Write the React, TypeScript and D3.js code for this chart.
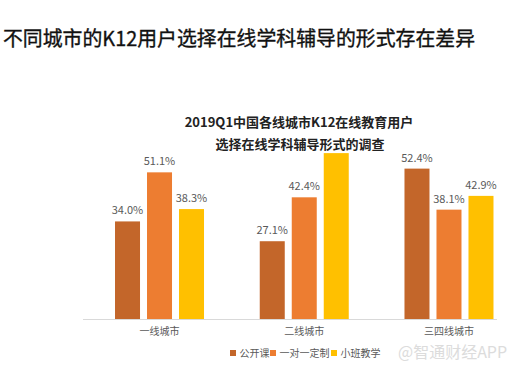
import React from "react";
import * as d3 from "d3";

const categories = ["一线城市", "二线城市", "三四线城市"];
const seriesNames = ["公开课", "一对一定制", "小班教学"];
const openClass = [34.0, 27.1, 52.4];
const oneOnOne = [51.1, 42.4, 38.1];
const smallClass = [38.3, 57.8, 42.9];
const showLabel = [[true, true, true], [true, true, false], [true, true, true]];
const colors = ["#C3662A", "#ED7D31", "#FFC000"];

const W = 516;
const H = 369;
const FONT = "'Noto Sans CJK SC', 'Microsoft YaHei', sans-serif";

export default function App() {
  const values = [openClass, oneOnOne, smallClass];
  const baseY = 319;
  const y = d3.scaleLinear().domain([0, 60]).range([baseY, baseY - 172.2]);
  const x0 = d3.scaleBand<string>().domain(categories).range([87.15, 521.35]).paddingInner(0).paddingOuter(0);
  const bw = x0.bandwidth();
  const x1 = d3
    .scaleBand<string>()
    .domain(seriesNames)
    .range([(bw - 89) / 2, (bw + 89) / 2])
    .paddingInner(7 / 32)
    .paddingOuter(0);
  const fmt = (v: number) => v.toFixed(1) + "%";

  const legendX = [230, 270, 331];

  return (
    <svg width={W} height={H} style={{ position: "absolute", left: 0, top: 0, background: "#fff" }} fontFamily={FONT}>
      <rect width={W} height={H} fill="#fff" />
      <text x={3} y={46} fontSize={20.5} fill="#111" stroke="#111" strokeWidth={0.35} textLength={472} lengthAdjust="spacingAndGlyphs">
        不同城市的K12用户选择在线学科辅导的形式存在差异
      </text>

      {categories.map((c, ci) =>
        seriesNames.map((s, si) => {
          const v = values[si][ci];
          const bx = (x0(c) ?? 0) + (x1(s) ?? 0);
          const top = y(v);
          return (
            <g key={c + s}>
              <rect x={bx} y={top} width={x1.bandwidth()} height={baseY - top} fill={colors[si]} />
              {showLabel[ci][si] && (
                <text x={bx + x1.bandwidth() / 2} y={top - 7} textAnchor="middle" fontSize={11} fill="#595959">
                  {fmt(v)}
                </text>
              )}
            </g>
          );
        })
      )}

      <line x1={83} x2={497} y1={baseY + 0.5} y2={baseY + 0.5} stroke="#d9d9d9" strokeWidth={1} />

      {categories.map((c) => (
        <text key={c} x={(x0(c) ?? 0) + bw / 2} y={335} textAnchor="middle" fontSize={10} fill="#595959">
          {c}
        </text>
      ))}

      <text x={299} y={127} textAnchor="middle" fontSize={13} fontWeight="bold" fill="#222">
        2019Q1中国各线城市K12在线教育用户
      </text>
      <text x={300} y={149} textAnchor="middle" fontSize={13} fontWeight="bold" fill="#222">
        选择在线学科辅导形式的调查
      </text>

      {seriesNames.map((s, i) => (
        <g key={s}>
          <rect x={legendX[i]} y={350} width={6} height={6} fill={colors[i]} />
          <text x={legendX[i] + 9.5} y={357} fontSize={10} fill="#595959">
            {s}
          </text>
        </g>
      ))}

      <text x={398} y={358} fontSize={16} fill="#dcdcdc">
        @智通财经APP
      </text>
    </svg>
  );
}
